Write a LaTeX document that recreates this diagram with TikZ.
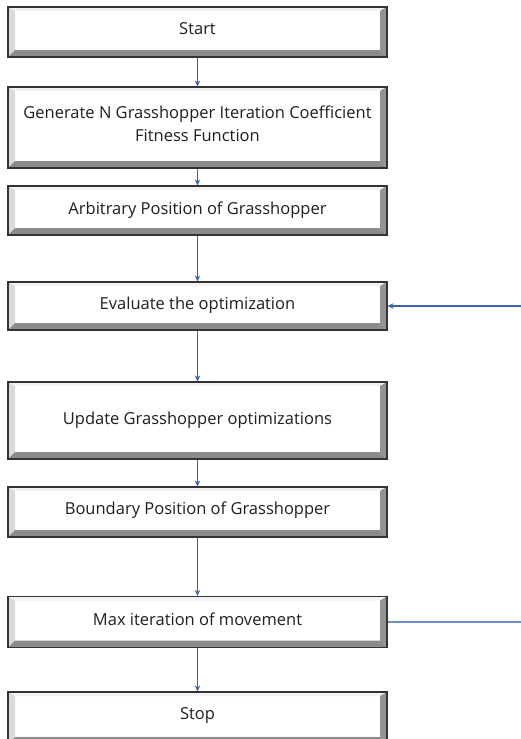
\documentclass[tikz,border=0pt]{standalone}
\usepackage{fontspec}
\setmainfont{Open Sans}
\usetikzlibrary{arrows.meta}
\definecolor{flowblue}{HTML}{3A62B0}
\definecolor{flowpale}{HTML}{6C8EC4}
\tikzset{
  bevbox/.style={
    rectangle, minimum width=379pt, inner sep=0pt,
    fill=white, draw=black!80, line width=1.2pt,
    path picture={
      % left face
      \fill[black!15] (path picture bounding box.north west) -- (path picture bounding box.south west)
        -- ([shift={(7pt,7pt)}]path picture bounding box.south west)
        -- ([shift={(7pt,-4pt)}]path picture bounding box.north west) -- cycle;
      % top face
      \fill[black!5] (path picture bounding box.north west) -- (path picture bounding box.north east)
        -- ([shift={(-7pt,-4pt)}]path picture bounding box.north east)
        -- ([shift={(7pt,-4pt)}]path picture bounding box.north west) -- cycle;
      % right face
      \fill[black!42] (path picture bounding box.north east) -- (path picture bounding box.south east)
        -- ([shift={(-7pt,7pt)}]path picture bounding box.south east)
        -- ([shift={(-7pt,-4pt)}]path picture bounding box.north east) -- cycle;
      % bottom face
      \fill[black!45] (path picture bounding box.south west) -- (path picture bounding box.south east)
        -- ([shift={(-7pt,7pt)}]path picture bounding box.south east)
        -- ([shift={(7pt,7pt)}]path picture bounding box.south west) -- cycle;
    }},
  boxtext/.style={align=center, inner sep=0pt, text=black!88,
    font=\fontsize{16.5}{23}\selectfont},
  flow/.style={draw=flowblue, line width=1.8pt, -{Stealth[length=6pt,width=5.5pt]}},
  plainline/.style={draw=flowpale, line width=1.8pt}
}
\begin{document}
\begin{tikzpicture}[x=1pt,y=-1pt]
\clip (0,0) rectangle (521,739);
\fill[white] (0,0) rectangle (521,739);

% bevelled process boxes
\node[bevbox, minimum height=50pt] (start)    at (197.5,32)    {};
\node[bevbox, minimum height=81pt] (generate) at (197.5,127.5) {};
\node[bevbox, minimum height=49pt] (arbit)    at (197.5,210.5) {};
\node[bevbox, minimum height=48pt] (evaluate) at (197.5,306)   {};
\node[bevbox, minimum height=77pt] (update)   at (197.5,420.5) {};
\node[bevbox, minimum height=50pt] (boundary) at (197.5,512)   {};
\node[bevbox, minimum height=51pt] (maxit)    at (197.5,622)   {};
\node[bevbox, minimum height=52pt] (stop)     at (197.5,718)   {};

% box captions, set slightly above centre because of the bottom bevel
\node[boxtext] (tstart)    at ([yshift=3pt]start.center)    {Start};
\node[boxtext] (tgenerate) at ([yshift=4pt]generate.center) {Generate N Grasshopper Iteration Coefficient\\Fitness Function};
\node[boxtext] (tarbit)    at ([yshift=0pt]arbit.center)    {Arbitrary Position of Grasshopper};
\node[boxtext] (tevaluate) at ([yshift=1pt]evaluate.center) {Evaluate the optimization};
\node[boxtext] (tupdate)   at ([yshift=0pt]update.center)   {Update Grasshopper optimizations};
\node[boxtext] (tboundary) at ([yshift=2pt]boundary.center) {Boundary Position of Grasshopper};
\node[boxtext] (tmaxit)    at ([yshift=3pt]maxit.center)    {Max iteration of movement};
\node[boxtext] (tstop)     at ([yshift=3pt]stop.center)     {Stop};

\draw[flow] (start) -- (generate);
\draw[flow] (generate) -- (arbit);
\draw[flow] (arbit) -- (evaluate);
\draw[flow] (evaluate) -- (update);
\draw[flow] (update) -- (boundary);
\draw[flow] (boundary) -- (maxit);
\draw[flow] (maxit) -- (stop);

\coordinate (loopin) at (521,306);
\coordinate (loopout) at (521,622);
\draw[flow] (loopin) -- (evaluate.east);
\draw[plainline] (maxit.east) -- (loopout);
\end{tikzpicture}
\end{document}
